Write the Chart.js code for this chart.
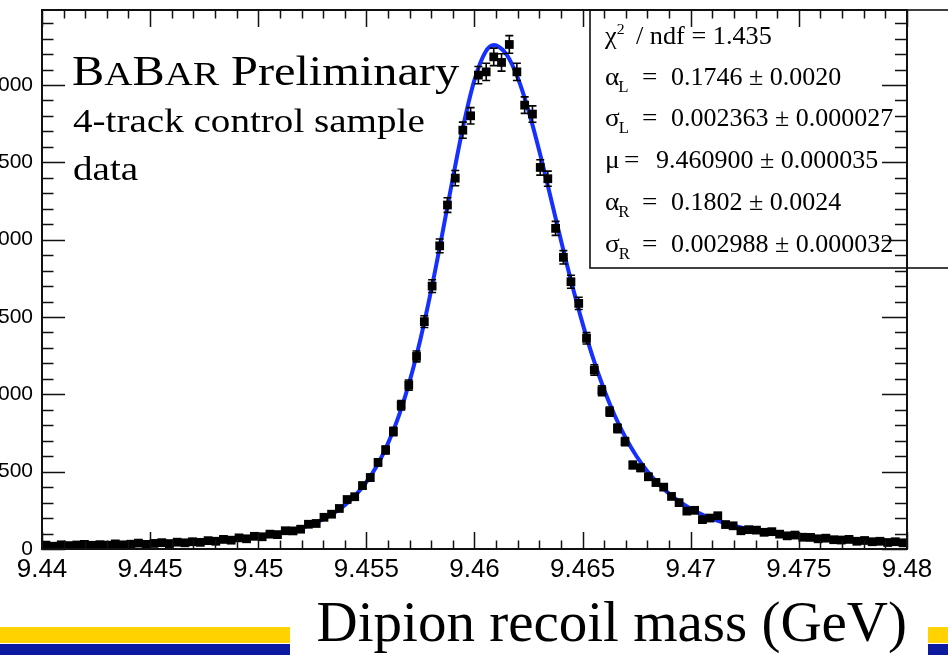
<!DOCTYPE html>
<html><head><meta charset="utf-8">
<script src="https://cdn.jsdelivr.net/npm/chart.js@4.4.1/dist/chart.umd.min.js"></script>
<style>
html,body{margin:0;padding:0;background:#fff;overflow:hidden;width:948px;height:655px;position:relative;}
#wrap{position:absolute;left:-18px;top:0;width:966px;height:655px;}
.bar{position:absolute;}
</style></head><body>
<div class="bar" style="left:0;top:627px;width:290px;height:16px;background:#FFD200"></div>
<div class="bar" style="left:0;top:644px;width:290px;height:11px;background:#0B1AA0"></div>
<div class="bar" style="left:928px;top:627px;width:20px;height:16px;background:#FFD200"></div>
<div class="bar" style="left:928px;top:644px;width:20px;height:11px;background:#0B1AA0"></div>
<div id="wrap"><canvas id="c" width="966" height="655"></canvas></div>
<script>
// ---- data ----
const binCenters = [9.44018,9.44054,9.44089,9.44125,9.44161,9.44196,9.44232,9.44268,9.44304,9.44339,
9.44375,9.44411,9.44446,9.44482,9.44518,9.44554,9.44589,9.44625,9.44661,9.44696,
9.44732,9.44768,9.44804,9.44839,9.44875,9.44911,9.44946,9.44982,9.45018,9.45054,
9.45089,9.45125,9.45161,9.45196,9.45232,9.45268,9.45304,9.45339,9.45375,9.45411,
9.45446,9.45482,9.45518,9.45554,9.45589,9.45625,9.45661,9.45696,9.45732,9.45768,
9.45804,9.45839,9.45875,9.45911,9.45946,9.45982,9.46018,9.46054,9.46089,9.46125,
9.46161,9.46196,9.46232,9.46268,9.46304,9.46339,9.46375,9.46411,9.46446,9.46482,
9.46518,9.46554,9.46589,9.46625,9.46661,9.46696,9.46732,9.46768,9.46804,9.46839,
9.46875,9.46911,9.46946,9.46982,9.47018,9.47054,9.47089,9.47125,9.47161,9.47196,
9.47232,9.47268,9.47304,9.47339,9.47375,9.47411,9.47446,9.47482,9.47518,9.47554,
9.47589,9.47625,9.47661,9.47696,9.47732,9.47768,9.47804,9.47839,9.47875,9.47911,
9.47946,9.47982];
const counts = [25,18,27,22,26,30,24,28,25,33,
27,31,38,30,36,41,35,44,40,47,
43,54,50,62,57,72,66,82,79,96,
93,118,117,128,160,165,205,225,262,320,
338,410,462,560,640,760,930,1060,1245,1470,
1700,1960,2224,2398,2708,2801,3064,3085,3182,3146,
3262,3085,2870,2812,2467,2394,2073,1886,1728,1588,
1362,1157,1023,888,780,694,543,525,467,430,
400,340,300,245,250,190,200,215,158,150,
118,125,122,108,112,96,85,90,76,75,
66,70,60,58,62,50,55,47,50,42,
47,40];
const countErrors = [5,4.2,5.2,4.7,5.1,5.5,4.9,5.3,5,5.7,
5.2,5.6,6.2,5.5,6,6.4,5.9,6.6,6.3,6.9,
6.6,7.3,7.1,7.9,7.5,8.5,8.1,9.1,8.9,9.8,
9.6,10.9,10.8,11.3,12.6,12.8,14.3,15,16.2,17.9,
18.4,20.2,21.5,23.7,25.3,27.6,30.5,32.6,35.3,38.3,
41.2,44.3,47.2,49,52,52.9,55.4,55.5,56.4,56.1,
57.1,55.5,53.6,53,49.7,48.9,45.5,43.4,41.6,39.8,
36.9,34,32,29.8,27.9,26.3,23.3,22.9,21.6,20.7,
20,18.4,17.3,15.7,15.8,13.8,14.1,14.7,12.6,12.2,
10.9,11.2,11,10.4,10.6,9.8,9.2,9.5,8.7,8.7,
8.1,8.4,7.7,7.6,7.9,7.1,7.4,6.9,7.1,6.5,
6.9,6.3];
const fitMass = [9.4400,9.4405,9.4410,9.4415,9.4420,9.4425,9.4430,9.4435,9.4440,9.4445,
9.4450,9.4455,9.4460,9.4465,9.4470,9.4475,9.4480,9.4485,9.4490,9.4495,
9.4500,9.4505,9.4510,9.4515,9.4520,9.4525,9.4530,9.4535,9.4540,9.4545,
9.4550,9.4555,9.4560,9.4565,9.4570,9.4575,9.4580,9.4585,9.4590,9.4595,
9.4600,9.4605,9.4609,9.4610,9.4615,9.4620,9.4625,9.4630,9.4635,9.4640,
9.4645,9.4650,9.4655,9.4660,9.4665,9.4670,9.4675,9.4680,9.4685,9.4690,
9.4695,9.4700,9.4705,9.4710,9.4715,9.4720,9.4725,9.4730,9.4735,9.4740,
9.4745,9.4750,9.4755,9.4760,9.4765,9.4770,9.4775,9.4780,9.4785,9.4790,
9.4795,9.4800];
const fitValues = [22.1,22.8,23.5,24.4,25.3,26.4,27.5,28.8,30.3,31.9,
33.7,35.8,38.2,40.9,44.1,47.7,52.0,57.0,63.0,70.1,
78.7,89.1,101.8,117.5,137,161.5,192.6,232,283,348,
433,542,683,861,1084,1356,1675,2030,2399,2748,
3033,3212,3258,3256,3193,3047,2833,2572,2286,1995,
1715,1457,1227,1028,858,716,598,501,422,357,
304,260.5,224.8,195,170.7,150.3,133.3,119,106.8,96.6,
87.9,80.3,73.7,68.1,63.1,58.8,55.0,51.6,48.6,46.0,
43.6,41.5];
const xTickValues = [9.44,9.445,9.45,9.455,9.46,9.465,9.47,9.475,9.48];
const xTickLabels = ['9.44','9.445','9.45','9.455','9.46','9.465','9.47','9.475','9.48'];
const yTickValues = [0,500,1000,1500,2000,2500,3000];
const yTickLabels = ['0','500','1000','1500','2000','2500','3000'];
const statSymbols = ['\u03B1','\u03C3','\u03BC','\u03B1','\u03C3'];
const statSubscripts = ['L','L','','R','R'];
const statValues = ['0.1746 \u00B1 0.0020','0.002363 \u00B1 0.000027','9.460900 \u00B1 0.000035','0.1802 \u00B1 0.0024','0.002988 \u00B1 0.000032'];
const chi2Text = '1.435';
const titleText = 'Dipion recoil mass (GeV)';

// ---- drawing ----
const OFF = 18; // canvas is shifted left by this many px
const SERIF = '"Liberation Serif", "Times New Roman", serif';

function stretchText(ctx, s, x, y, size, sx, family) {
  ctx.save();
  ctx.font = size + 'px ' + (family || SERIF);
  ctx.translate(x, y);
  ctx.scale(sx, 1);
  ctx.fillText(s, 0, 0);
  const w = ctx.measureText(s).width * sx;
  ctx.restore();
  return w;
}

const errorBarPlugin = {
  id: 'errorBars',
  beforeDatasetDraw(chart, args) {
    if (args.index !== 0) return;
    const {ctx, scales: {x, y}} = chart;
    ctx.save();
    ctx.strokeStyle = '#000';
    ctx.lineWidth = 1.6;
    binCenters.forEach((m, i) => {
      const px = x.getPixelForValue(m);
      const top = y.getPixelForValue(counts[i] + countErrors[i]);
      const bot = y.getPixelForValue(counts[i] - countErrors[i]);
      ctx.beginPath();
      ctx.moveTo(px, top); ctx.lineTo(px, bot);
      if (bot - top > 6) {
        ctx.moveTo(px - 4, top); ctx.lineTo(px + 4, top);
        ctx.moveTo(px - 4, bot); ctx.lineTo(px + 4, bot);
      }
      ctx.stroke();
    });
    ctx.restore();
  }
};

const framePlugin = {
  id: 'frame',
  afterDraw(chart) {
    const {ctx, chartArea: a, scales: {x, y}} = chart;
    ctx.save();
    // stats box
    const bx = 590 + OFF, by = a.top, bb = 268;
    ctx.fillStyle = '#fff';
    ctx.fillRect(bx, by, chart.width - bx + 5, bb - by);
    ctx.strokeStyle = '#111';
    ctx.lineWidth = 1.6;
    ctx.strokeRect(bx, by, chart.width - bx + 5, bb - by);
    ctx.fillStyle = '#000';
    ctx.textBaseline = 'alphabetic';
    // chi2 line
    let cx = 605 + OFF;
    cx += stretchText(ctx, '\u03C7', cx, 44, 25, 1.05);
    stretchText(ctx, '2', cx, 34, 15, 1.05);
    stretchText(ctx, '/ ndf = ' + chi2Text, 636 + OFF, 44, 25, 1.05);
    const baselines = [85, 126, 168, 210, 252];
    statValues.forEach((v, i) => {
      const yb = baselines[i];
      const sx = 605 + OFF;
      const w = stretchText(ctx, statSymbols[i], sx, yb, 26, 1.05);
      if (statSubscripts[i]) stretchText(ctx, statSubscripts[i], sx + w - 1, yb + 7, 16, 1.05);
      const eqX = statSubscripts[i] ? 642 : 624;
      const vX = statSubscripts[i] ? 671 : 656;
      stretchText(ctx, '=', eqX + OFF, yb, 26, 1.05);
      stretchText(ctx, v, vX + OFF, yb, 25, 1.04);
    });
    // frame
    ctx.strokeStyle = '#111';
    ctx.lineWidth = 2;
    ctx.strokeRect(a.left, a.top, a.right - a.left, a.bottom - a.top);
    ctx.lineWidth = 1.5;
    ctx.beginPath();
    // x ticks (bottom & top)
    for (let k = 0; k <= 40; k++) {
      const v = 9.44 + k * 0.001;
      const px = Math.round(x.getPixelForValue(v)) + 0.5;
      const len = (k % 5 === 0) ? 17 : 8.5;
      ctx.moveTo(px, a.bottom); ctx.lineTo(px, a.bottom - len);
      ctx.moveTo(px, a.top); ctx.lineTo(px, a.top + len);
    }
    // y ticks (left & right)
    for (let k = 0; k <= 34; k++) {
      const v = k * 100;
      const py = Math.round(y.getPixelForValue(v)) + 0.5;
      const major = (k % 5 === 0);
      ctx.moveTo(a.left, py); ctx.lineTo(a.left + (major ? 23 : 11.5), py);
      ctx.moveTo(a.right, py); ctx.lineTo(a.right - (major ? 25 : 12), py);
    }
    ctx.stroke();
    // BaBar label
    ctx.fillStyle = '#000';
    let tx = 72 + OFF;
    tx += stretchText(ctx, 'B', tx, 85, 42, 1.15);
    tx += stretchText(ctx, 'A', tx, 85, 34, 1.15);
    tx += stretchText(ctx, 'B', tx, 85, 42, 1.15);
    tx += stretchText(ctx, 'AR', tx, 85, 34, 1.15);
    stretchText(ctx, ' Preliminary', tx, 85, 42, 1.15);
    stretchText(ctx, '4-track control sample', 73 + OFF, 132, 34, 1.15);
    stretchText(ctx, 'data', 73 + OFF, 180, 34, 1.15);
    ctx.restore();
  }
};

const ctx = document.getElementById('c').getContext('2d');
new Chart(ctx, {
  type: 'scatter',
  data: {
    datasets: [
      {
        label: 'data',
        data: binCenters.map((m, i) => ({x: m, y: counts[i]})),
        pointStyle: 'rect',
        pointRadius: 6.2,
        backgroundColor: '#000',
        borderColor: '#000',
        borderWidth: 0,
        order: 0
      },
      {
        label: 'fit',
        type: 'line',
        data: fitMass.map((m, i) => ({x: m, y: fitValues[i]})),
        borderColor: '#1530FF',
        borderWidth: 4,
        pointRadius: 0,
        cubicInterpolationMode: 'monotone',
        fill: false,
        order: 1
      }
    ]
  },
  options: {
    responsive: false,
    animation: false,
    devicePixelRatio: 1,
    layout: {padding: {left: 0, right: 41, top: 10, bottom: 0}},
    plugins: {legend: {display: false}, tooltip: {enabled: false}},
    scales: {
      x: {
        type: 'linear', min: 9.44, max: 9.48,
        afterBuildTicks: s => { s.ticks = xTickValues.map(v => ({value: v})); },
        afterFit: s => { s.height = 106; s.paddingLeft = 0; s.paddingRight = 0; },
        grid: {display: false, drawTicks: false},
        border: {display: false},
        ticks: {
          autoSkip: false, maxRotation: 0, minRotation: 0, padding: 5, color: '#000',
          font: {family: '"Liberation Sans", Arial, sans-serif', size: 26},
          callback: v => xTickLabels[xTickValues.indexOf(v)]
        },
        title: {
          display: true, text: titleText, align: 'end', color: '#000', padding: 0,
          font: {family: SERIF, size: 57, lineHeight: 1}
        }
      },
      y: {
        type: 'linear', min: 0, max: 3485,
        afterBuildTicks: s => { s.ticks = yTickValues.map(v => ({value: v})); },
        afterFit: s => { s.width = 60; s.paddingTop = 0; s.paddingBottom = 0; },
        grid: {display: false, drawTicks: false},
        border: {display: false},
        ticks: {
          padding: 9, color: '#000',
          font: {family: '"Liberation Sans", Arial, sans-serif', size: 21},
          callback: v => yTickLabels[yTickValues.indexOf(v)]
        }
      }
    }
  },
  plugins: [errorBarPlugin, framePlugin]
});
</script>
</body></html>
